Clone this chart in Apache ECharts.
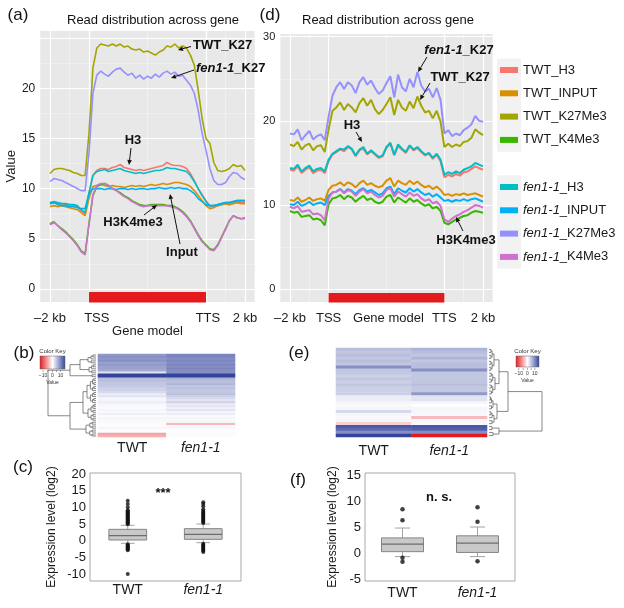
<!DOCTYPE html>
<html><head><meta charset="utf-8">
<script src="https://cdn.jsdelivr.net/npm/echarts@6/dist/echarts.min.js"></script>
<style>html,body{margin:0;padding:0;background:#fff}#c{width:624px;height:608px}</style>
</head><body><div id="c"></div>
<script>
// ---------- data ----------
const xBins = [0,2,4,6,8,10,12,14,16,18,20,22,24,26,28,30,32,34,36,38,40,42,44,46,48,50,52,54,56,58,60,62,64,66,68,70,72,74,76,78,80,82,84,86,88,90,92,94,96,98,100];
const geneModel = [20, 80];            // TSS, TTS (bin units)
const xBreaksMajor = [0, 20, 80, 100];
const xBreaksMinor = [10, 50, 90];
const xTickPosA = [0, 24, 81, 100];
const xTickLabelsA = ['–2 kb', 'TSS', 'TTS', '2 kb'];
const xTickPosD = [0, 20, 51, 80, 100];
const xTickLabelsD = ['–2 kb', 'TSS', 'Gene model', 'TTS', '2 kb'];
const yLabelMaxA = 20;

const seriesNames = ['TWT_H3','TWT_INPUT','TWT_K27Me3','TWT_K4Me3','fen1-1_H3','fen1-1_INPUT','fen1-1_K27Me3','fen1-1_K4Me3'];
const seriesColors = ['#F8766D','#D89000','#A3A500','#39B600','#00BFC4','#00B0F6','#9590FF','#CF72CF'];

// panel (a)
const a_TWT_H3 = [8.5,8.6,8.5,8.5,8.4,8.4,8.3,8.2,7.8,7.5, 9.5,11.3,11.8,12.0,12.0,11.9,12.1,12.2,12.4,12.1, 12.0,11.9,11.8,11.9,11.8,11.9,12.0,12.1,12.2,12.3, 12.6,12.4,12.3,12.3,12.2,12.0,11.5,10.8,10.0,9.4, 8.8,8.2,8.2,8.3,8.4,8.5,8.4,8.6,8.7,8.6, 8.6];
const a_TWT_INPUT = [8.2,8.3,8.2,8.3,8.2,8.1,8.0,7.9,7.6,7.3, 9.0,10.2,10.3,10.4,10.3,10.2,10.3,10.2,10.2,10.1, 10.2,10.3,10.2,10.3,10.2,10.3,10.4,10.3,10.4,10.5, 10.4,10.5,10.6,10.6,10.5,10.4,10.2,9.8,9.3,8.8, 8.3,8.0,8.1,8.3,8.4,8.5,8.4,8.5,8.6,8.5, 8.5];
const a_TWT_K27Me3 = [11.5,11.9,12.0,12.0,11.9,11.8,11.6,11.5,11.3,11.3, 15.5,22.0,24.0,24.4,24.3,24.2,24.4,24.2,24.4,24.1, 24.2,23.9,23.8,23.9,23.6,23.7,23.5,23.3,23.6,23.8, 24.2,24.1,24.4,24.0,24.2,24.0,23.3,22.3,19.8,17.0, 15.0,14.5,12.6,11.8,11.7,11.8,12.0,12.4,12.2,12.3, 11.8];
const a_TWT_K4Me3 = [6.5,6.7,6.3,6.0,5.7,5.3,4.9,4.4,3.8,3.5, 6.5,9.3,10.2,10.4,10.5,10.3,10.0,9.8,9.6,9.3, 9.1,8.8,8.6,8.4,8.3,8.3,8.4,8.4,8.4,8.4, 8.3,8.3,8.2,8.0,7.7,7.3,6.8,6.1,5.4,4.8, 4.4,4.0,3.9,4.4,5.2,6.0,6.8,7.3,7.1,7.0, 7.1];
const a_fen_H3 = [8.6,8.7,8.6,8.5,8.5,8.4,8.4,8.3,7.9,7.6, 9.6,11.3,11.7,11.8,11.9,11.7,11.8,11.9,12.0,11.8, 11.7,11.6,11.5,11.6,11.5,11.6,11.7,11.8,11.8,11.9, 12.1,12.0,12.0,11.9,11.8,11.7,11.3,10.7,10.0,9.3, 8.7,8.3,8.3,8.4,8.5,8.6,8.6,8.7,8.8,8.8, 8.8];
const a_fen_INPUT = [8.5,8.6,8.4,8.3,8.3,8.2,8.2,8.1,8.0,8.0, 9.5,10.0,10.0,10.0,9.9,10.0,10.0,9.9,10.0,10.0, 9.9,10.0,9.9,10.0,10.0,9.9,10.0,10.0,10.1,10.0, 10.0,10.1,10.0,10.1,10.0,10.0,9.8,9.5,9.0,8.7, 8.4,8.3,8.3,8.4,8.5,8.6,8.6,8.7,8.8,8.8, 8.8];
const a_fen_K27Me3 = [10.7,11.0,10.9,10.8,10.6,10.4,10.2,10.0,9.8,9.8, 13.5,19.5,21.3,21.7,21.4,21.2,21.6,21.9,22.0,21.6, 21.3,21.5,21.0,21.3,20.9,21.2,21.0,21.4,21.1,21.5, 21.7,21.4,21.6,21.2,21.3,20.8,20.3,19.5,17.8,15.5, 13.8,12.0,10.8,10.4,10.4,10.6,11.2,11.6,11.5,11.1, 10.9];
const a_fen_K4Me3 = [6.4,6.6,6.3,5.9,5.6,5.2,4.8,4.3,3.7,3.4, 6.4,9.4,10.3,10.5,10.5,10.3,10.0,9.8,9.5,9.2, 9.0,8.7,8.5,8.3,8.2,8.3,8.3,8.3,8.3,8.3, 8.3,8.2,8.1,7.9,7.6,7.2,6.7,6.0,5.3,4.7, 4.3,3.9,3.8,4.3,5.1,5.9,6.8,7.3,7.1,7.0, 7.0];

// panel (d)
const d_TWT_H3 = [14.2,14.1,14.6,13.8,14.2,14.5,13.8,14.1,14.2,13.8, 15.2,16.0,16.3,16.6,16.4,16.9,16.6,15.8,16.5,16.7, 16.0,16.4,16.0,15.6,15.8,16.8,17.3,15.9,17.0,16.6, 16.2,17.0,16.5,16.8,16.3,15.9,16.1,15.5,16.0,15.2, 13.3,13.6,13.4,13.7,13.5,13.9,14.0,14.3,14.6,14.4, 14.2];
const d_TWT_INPUT = [10.6,10.5,10.9,10.4,10.6,10.9,10.5,10.7,10.8,10.5, 11.8,12.3,12.4,12.7,12.3,12.7,12.5,12.1,12.6,12.9, 12.4,12.6,12.3,12.1,12.3,12.9,13.2,12.2,12.9,12.6, 12.4,12.9,12.5,12.8,12.4,12.1,12.3,11.9,12.2,11.8, 11.2,11.3,11.1,11.3,11.2,11.4,11.2,11.3,11.4,11.2, 11.0];
const d_TWT_K27Me3 = [17.2,17.0,17.5,16.6,17.1,17.3,16.5,17.0,17.1,16.3, 19.0,21.2,21.6,22.2,21.3,22.0,21.6,21.0,22.1,22.7, 21.8,22.5,21.4,20.8,21.3,22.0,22.8,20.7,22.5,21.6, 21.2,22.3,21.5,22.9,21.8,21.0,21.2,20.3,21.2,19.9, 16.9,17.3,16.9,17.2,17.0,17.5,17.6,18.0,19.0,18.6, 18.3];
const d_TWT_K4Me3 = [9.3,9.1,9.2,8.6,8.7,8.8,8.3,8.4,8.2,7.6, 10.1,10.8,10.9,11.2,10.7,11.1,10.9,10.4,10.8,11.1, 10.6,10.8,10.4,10.2,10.4,11.0,11.2,10.3,10.9,10.6, 10.3,10.8,10.4,10.6,10.2,9.9,10.1,9.6,9.8,9.3, 7.9,7.7,8.0,8.3,8.5,8.7,8.8,9.1,9.3,9.2, 9.1];
const d_fen_H3 = [14.4,14.3,14.8,14.0,14.4,14.7,14.0,14.3,14.4,14.0, 15.4,16.1,16.4,16.7,16.6,17.0,16.7,15.9,16.6,16.9, 16.1,16.5,16.1,15.7,15.9,16.9,17.4,16.0,17.2,16.7, 16.3,17.1,16.6,16.9,16.4,16.0,16.2,15.6,16.1,15.4, 13.6,13.9,13.7,14.0,13.8,14.2,14.4,14.6,15.0,14.8, 14.6];
const d_fen_INPUT = [10.1,10.0,10.4,9.9,10.1,10.4,10.0,10.2,10.3,10.0, 11.1,11.5,11.6,11.9,11.5,11.9,11.7,11.3,11.8,12.0, 11.6,11.8,11.5,11.2,11.4,12.0,12.2,11.3,12.0,11.7, 11.5,12.0,11.6,11.9,11.5,11.2,11.4,11.0,11.3,10.9, 10.5,10.6,10.4,10.6,10.5,10.7,10.5,10.7,10.8,10.6, 10.4];
const d_fen_K27Me3 = [18.5,18.4,19.0,17.7,18.3,18.8,17.8,18.2,18.4,17.7, 20.5,23.0,24.0,24.6,23.8,24.6,24.2,23.3,24.6,25.2, 24.3,24.8,23.9,23.2,23.6,24.5,25.3,22.8,25.5,24.0, 23.5,25.0,24.0,25.8,24.2,23.5,23.8,22.8,23.9,22.5, 18.5,18.9,18.2,18.5,18.3,18.9,19.2,19.6,20.6,20.0, 19.9];
const d_fen_K4Me3 = [9.8,9.6,9.9,9.2,9.3,9.4,8.9,9.0,8.8,8.2, 10.8,11.5,11.6,11.9,11.4,11.8,11.6,11.1,11.6,11.9, 11.4,11.6,11.2,10.9,11.1,11.8,12.0,11.0,11.6,11.3, 11.0,11.5,11.1,11.3,10.8,10.5,10.7,10.2,10.4,9.9, 8.3,8.0,8.4,8.7,8.9,9.2,9.4,9.7,10.0,9.9, 9.7];

// heatmaps (rows top to bottom)
const heatCols = ['TWT', 'fen1-1'];
const heatB_TWT = [5.5,6.0,5.5,6.0,5.0,5.5,5.0,5.0,4.5,1.5, 12,11, 3.5,3.5,3.0,3.0,3.0,2.5,2.5,2.0, 1.0,1.5,0.5,0.5,1.0, 0.5,0.3,0.2,0.5,0.3,0.8,0.2,0.5,0.3, 0.3,0.2,0.1,0.5,0.2,0.1, -4,-3.5];
const heatB_fen = [6.5,6.5,6.0,6.5,6.0,6.5,6.0,6.5,6.0,6.0, 12,11.5, 4.0,3.5,3.5,4.0,3.0,3.5,3.0,3.0, 3.5,2.5,2.0,1.5,2.5, 1.0,1.5,0.8,1.5,0.5,1.0,0.3,0.5,0.3, 0.5,-3,0.3,0.5,0.2,0.1, 0.2,0.2];
const heatE_TWT = [3.5,3.0,3.5,3.0,3.5,3.0,6.0,3.0,3.0,2.5, 3.0,2.5,3.0,2.5,2.5,2.5,1.0,1.0,0.5,0.3, 0.5,2.0,0.5,0.3,0.5,-2.0,9.0,8.0,6.0,10.0];
const heatE_fen = [4.0,3.5,3.0,4.0,3.0,3.5,3.5,6.0,3.0,3.0, 3.0,3.0,3.5,3.0,3.0,5.5,1.5,1.5,0.5,0.0, 0.5,0.5,0.3,-3.0,0.5,0.3,9.0,8.5,6.0,-12];

// boxplots: [min, Q1, median, Q3, max]
const boxCats = ['TWT', 'fen1-1'];
const boxStatsC = [[-0.8,0.2,1.5,3.4,4.6],[-0.6,0.4,1.9,3.6,5.0]];
const outC_TWT = [4.9,5.2,5.5,5.8,6.1,6.4,6.7,7.0,7.3,7.6,7.9,8.2,8.5,8.8,9.1,10.0,11.0,12.0,-1.1,-1.4,-1.7,-2.0,-2.3,-2.6,-2.9,-10.0];
const outC_fen = [5.3,5.6,5.9,6.2,6.5,6.8,7.1,7.4,7.7,8.0,8.3,8.6,8.9,9.4,10.3,11.0,11.5,-0.9,-1.2,-1.5,-1.8,-2.1,-2.4,-2.7,-3.0,-3.4];
const boxStatsF = [[-0.7,0.25,1.7,2.9,4.8],[-0.7,0.1,1.9,3.3,5.0]];
const outF_TWT = [8.4,6.3,-0.9,-1.7];
const outF_fen = [8.8,6.0,-1.6];

// ---------- build ----------
const FONT = '"Liberation Sans", Arial, Helvetica, sans-serif';
const TXT = '#1a1a1a';
const RED = '#E3191F', BLUE = '#34449C';
const colorOf = n => seriesColors[seriesNames.indexOf(n)];
const italicFmt = v => v.indexOf('fen1-1') === 0 ? '{i|fen1-1}' + (v.length > 6 ? '{n|' + v.slice(6) + '}' : '') : v;

const aSets = [a_TWT_H3,a_TWT_INPUT,a_TWT_K27Me3,a_TWT_K4Me3,a_fen_H3,a_fen_INPUT,a_fen_K27Me3,a_fen_K4Me3];
const dSets = [d_TWT_H3,d_TWT_INPUT,d_TWT_K27Me3,d_TWT_K4Me3,d_fen_H3,d_fen_INPUT,d_fen_K27Me3,d_fen_K4Me3];

function lineSeries(name, arr, gi, w){
  const c = colorOf(name);
  return {type:'line', name, xAxisIndex:gi, yAxisIndex:gi, data:xBins.map((x,i)=>[x,arr[i]]),
    showSymbol:false, symbol:'none', z:3, lineStyle:{width:w, color:c}, itemStyle:{color:c},
    emphasis:{disabled:true}, animation:false};
}
function frameSeries(gi, barTop, barBottom){
  return {type:'line', name:'gene model', xAxisIndex:gi, yAxisIndex:gi, data:[], silent:true, z:1,
    markArea:{silent:true, z:2, itemStyle:{color:'#E41A1C', opacity:1},
      data:[[{xAxis:geneModel[0], yAxis:barTop},{xAxis:geneModel[1], yAxis:barBottom}]]},
    markLine:{silent:true, z:1, symbol:['none','none'], label:{show:false}, emphasis:{disabled:true}, animation:false,
      lineStyle:{color:'#ffffff', width:1.2, type:'solid'},
      data: xBreaksMajor.map(v=>({xAxis:v})).concat(xBreaksMinor.map(v=>({xAxis:v, lineStyle:{color:'rgba(255,255,255,0.6)', width:0.6, type:'solid'}})))}
  };
}
function profileX(gi, pos, labels, name){
  const ax = {gridIndex:gi, type:'value', min:-5, max:105, axisLine:{show:false}, axisTick:{show:false}, splitLine:{show:false},
    axisLabel:{customValues:pos, formatter:v=>labels[pos.indexOf(v)], fontSize:13, color:TXT, margin:9}};
  if (name) Object.assign(ax, {name, nameLocation:'middle', nameGap:19, nameTextStyle:{fontSize:13, color:TXT}});
  return ax;
}
function profileY(gi, min, max, split, fs, labelMax, extra){
  return Object.assign({gridIndex:gi, type:'value', min, max, splitNumber:split,
    axisLine:{show:false}, axisTick:{show:false},
    axisLabel:{fontSize:fs, color:TXT, margin:5, showMinLabel:false, showMaxLabel:false, formatter:v=> v > labelMax ? '' : String(v)},
    splitLine:{lineStyle:{color:'#ffffff', width:1.2}},
    minorTick:{show:false, splitNumber:2},
    minorSplitLine:{show:true, lineStyle:{color:'rgba(255,255,255,0.55)', width:0.6}}}, extra||{});
}
const richIt = {i:{fontStyle:'italic', fontSize:14, color:TXT, fontFamily:FONT}, n:{fontSize:14, color:TXT, fontFamily:FONT}};

function boxRender(frac){
  return function(params, api){
    const c = api.value(0);
    const p = [1,2,3,4,5].map(k=>api.coord([c, api.value(k)]));
    const bw = api.size([1,0])[0]*frac, x = p[0][0], cap = bw*0.18;
    const wl = {stroke:'#a3a3a3', lineWidth:1};
    return {type:'group', children:[
      {type:'line', shape:{x1:x,y1:p[3][1],x2:x,y2:p[4][1]}, style:wl},
      {type:'line', shape:{x1:x-cap,y1:p[4][1],x2:x+cap,y2:p[4][1]}, style:wl},
      {type:'line', shape:{x1:x,y1:p[1][1],x2:x,y2:p[0][1]}, style:wl},
      {type:'line', shape:{x1:x-cap,y1:p[0][1],x2:x+cap,y2:p[0][1]}, style:wl},
      {type:'rect', shape:{x:x-bw/2,y:p[3][1],width:bw,height:p[1][1]-p[3][1]}, style:{fill:'#C9C9C9', stroke:'#858585', lineWidth:1}},
      {type:'line', shape:{x1:x-bw/2,y1:p[2][1],x2:x+bw/2,y2:p[2][1]}, style:{stroke:'#6d6d6d', lineWidth:1.2}}
    ]};
  };
}
function catX(gi, data, margin){
  return {gridIndex:gi, type:'category', data, axisLine:{show:false}, axisTick:{show:false},
    axisLabel:{interval:0, fontSize:14, color:TXT, margin, formatter:italicFmt, rich:richIt}};
}
function boxY(gi, min, max, split, gap){
  return {gridIndex:gi, type:'value', min, max, splitNumber:split, splitLine:{show:false}, axisLine:{show:false}, axisTick:{show:false},
    axisLabel:{fontSize:13, color:TXT, margin:4, showMinLabel:false, showMaxLabel:false},
    name:'Expression level (log2)', nameLocation:'middle', nameGap:gap, nameTextStyle:{fontSize:12, color:TXT}};
}

const series = [];
series.push(frameSeries(0, -0.3, -1.35));
seriesNames.forEach((n,i)=>series.push(lineSeries(n, aSets[i], 0, 1.6)));
series.push(frameSeries(1, -0.45, -1.57));
seriesNames.forEach((n,i)=>series.push(lineSeries(n, dSets[i], 1, 2)));
const hbIdx = series.length;
series.push({type:'heatmap', xAxisIndex:2, yAxisIndex:2, silent:true, emphasis:{disabled:true},
  data: heatB_TWT.map((v,i)=>[0,i,v]).concat(heatB_fen.map((v,i)=>[1,i,v]))});
series.push({type:'heatmap', xAxisIndex:3, yAxisIndex:3, silent:true, emphasis:{disabled:true},
  data: heatE_TWT.map((v,i)=>[0,i,v]).concat(heatE_fen.map((v,i)=>[1,i,v]))});
series.push({type:'custom', xAxisIndex:4, yAxisIndex:4, renderItem:boxRender(0.5), silent:true,
  data: boxStatsC.map((s,i)=>[i].concat(s)), encode:{x:0, y:[1,2,3,4,5]}});
series.push({type:'scatter', xAxisIndex:4, yAxisIndex:4, symbolSize:4, silent:true, itemStyle:{color:'#111'}, z:4,
  data: outC_TWT.map(v=>[0,v]).concat(outC_fen.map(v=>[1,v]))});
series.push({type:'custom', xAxisIndex:5, yAxisIndex:5, renderItem:boxRender(0.56), silent:true,
  data: boxStatsF.map((s,i)=>[i].concat(s)), encode:{x:0, y:[1,2,3,4,5]}});
series.push({type:'scatter', xAxisIndex:5, yAxisIndex:5, symbolSize:4.5, silent:true, itemStyle:{color:'#111'}, z:4,
  data: outF_TWT.map(v=>[0,v]).concat(outF_fen.map(v=>[1,v]))});

const legendCommon = {orient:'vertical', left:500, padding:0, itemWidth:18, itemHeight:6, itemGap:7.3, icon:'rect',
  formatter:italicFmt, textStyle:{fontSize:13, lineHeight:16, color:TXT, rich:{i:{fontStyle:'italic', fontSize:13, color:TXT}, n:{fontSize:13, color:TXT}}}};

const option = {
  animation:false,
  textStyle:{fontFamily:FONT},
  grid:[
    {left:40.25, top:30, width:214.5, height:272.5, show:true, backgroundColor:'#E8E8E8', borderWidth:0},
    {left:280.35, top:33, width:212.3, height:269.5, show:true, backgroundColor:'#E8E8E8', borderWidth:0},
    {left:98, top:354, width:137, height:83},
    {left:336, top:348, width:151, height:89},
    {left:90, top:473, width:151, height:108, show:true, borderColor:'#A8A8A8', borderWidth:1, backgroundColor:'transparent'},
    {left:365, top:473, width:150, height:108, show:true, borderColor:'#A8A8A8', borderWidth:1, backgroundColor:'transparent'}
  ],
  xAxis:[
    profileX(0, xTickPosA, xTickLabelsA, 'Gene model'),
    profileX(1, xTickPosD, xTickLabelsD, null),
    catX(2, heatCols, 4),
    catX(3, heatCols, 7),
    catX(4, boxCats, 2),
    catX(5, boxCats, 5)
  ],
  yAxis:[
    profileY(0, -1.35, 25.8, 5, 12, yLabelMaxA, {name:'Value', nameLocation:'middle', nameGap:20, nameTextStyle:{fontSize:13, color:TXT}}),
    profileY(1, -1.57, 30.44, 3, 11, 30),
    {gridIndex:2, type:'category', inverse:true, data:heatB_TWT.map((_,i)=>String(i)), show:false},
    {gridIndex:3, type:'category', inverse:true, data:heatE_TWT.map((_,i)=>String(i)), show:false},
    boxY(4, -12.1, 20.3, 6, 32),
    boxY(5, -5.4, 15.4, 4, 26)
  ],
  visualMap:[{type:'continuous', show:false, min:-10, max:10, seriesIndex:[hbIdx, hbIdx+1], inRange:{color:[RED,'#ffffff',BLUE]}}],
  legend:[
    Object.assign({top:62, data:seriesNames.slice(0,4)}, legendCommon),
    Object.assign({top:179, data:seriesNames.slice(4)}, legendCommon)
  ],
  series
};

const chart = echarts.init(document.getElementById('c'));
chart.setOption(option);

// ---------- annotations / decorations ----------
function txt(x, y, text, st){
  return {type:'text', z:10, x, y, silent:true, style:Object.assign({text, fill:'#111', fontSize:13, fontFamily:FONT, align:'center', verticalAlign:'middle'}, st||{})};
}
function arrow(x1,y1,x2,y2){
  const a = Math.atan2(y2-y1, x2-x1), L = 5, W = 2.3;
  const bx = x2-L*Math.cos(a), by = y2-L*Math.sin(a), px = -Math.sin(a)*W, py = Math.cos(a)*W;
  return [
    {type:'line', z:10, silent:true, shape:{x1,y1,x2:bx,y2:by}, style:{stroke:'#111', lineWidth:1}},
    {type:'polygon', z:10, silent:true, shape:{points:[[x2,y2],[bx+px,by+py],[bx-px,by-py]]}, style:{fill:'#111'}}
  ];
}
const boldRich = {i:{fontStyle:'italic', fontWeight:'bold', fontSize:13, fontFamily:FONT, fill:'#111'}, b:{fontWeight:'bold', fontSize:13, fontFamily:FONT, fill:'#111'}};
function colorKey(x, y, w, h){
  const els = [
    txt(x+w/2, y-5, 'Color Key', {fontSize:6, fill:'#333'}),
    {type:'rect', silent:true, shape:{x, y, width:w, height:h}, style:{stroke:'#666', lineWidth:0.5,
      fill:new echarts.graphic.LinearGradient(0,0,1,0,[{offset:0,color:RED},{offset:0.5,color:'#ffffff'},{offset:1,color:BLUE}])}}
  ];
  [0.12,0.31,0.5,0.66,0.82].forEach(f=>els.push({type:'line', silent:true, shape:{x1:x+w*f,y1:y+h+1,x2:x+w*f,y2:y+h+3}, style:{stroke:'#555', lineWidth:0.5}}));
  els.push(txt(x+w*0.12, y+h+7, '−10', {fontSize:5, fill:'#333'}));
  els.push(txt(x+w*0.5, y+h+7, '0', {fontSize:5, fill:'#333'}));
  els.push(txt(x+w*0.82, y+h+7, '10', {fontSize:5, fill:'#333'}));
  els.push(txt(x+w*0.5, y+h+14, 'Value', {fontSize:5, fill:'#333'}));
  return els;
}
// dendrogram structures
const N = (h, l, r) => ({h, c:[l, r]});
function R(a, b, h){ if (a === b) return {leaf:a}; const m = Math.floor((a+b)/2); return {h, c:[R(a,m,h*0.62), R(m+1,b,h*0.62)]}; }
const treeB = N(48, N(26, N(16, R(0,4,8), R(5,9,7)), R(10,11,4)), N(26, N(13, R(12,24,9), R(25,33,8)), R(34,41,10)));
const treeE = N(53, N(19, N(10, R(0,7,5), R(8,15,6)), N(8, R(16,20,4), R(21,25,5))), N(10, R(26,27,3), R(28,29,4)));
function dendro(tree, rowY, xLeaf, dir){
  const els = [];
  (function walk(n){
    if (n.leaf !== undefined) return {y:rowY[n.leaf], h:0};
    const L = walk(n.c[0]), Rr = walk(n.c[1]), x = xLeaf + dir*n.h;
    els.push({type:'polyline', silent:true, shape:{points:[[xLeaf+dir*L.h, L.y],[x, L.y],[x, Rr.y],[xLeaf+dir*Rr.h, Rr.y]]}, style:{stroke:'#555', lineWidth:0.7, fill:null}});
    return {y:(L.y+Rr.y)/2, h:n.h};
  })(tree);
  return els;
}
const rowYB = heatB_TWT.map((_,i)=>chart.convertToPixel({xAxisIndex:2, yAxisIndex:2}, [0,i])[1]);
const rowYE = heatE_TWT.map((_,i)=>chart.convertToPixel({xAxisIndex:3, yAxisIndex:3}, [0,i])[1]);

let g = [];
// legend key backgrounds
g.push({type:'rect', silent:true, z:-1, shape:{x:497, y:58.5, width:24, height:93.3}, style:{fill:'#F2F2F2'}});
g.push({type:'rect', silent:true, z:-1, shape:{x:497, y:175.3, width:24, height:93.3}, style:{fill:'#F2F2F2'}});
// titles & panel letters
g.push(txt(18, 15, '(a)', {fontSize:17}));
g.push(txt(153, 20, 'Read distribution across gene', {fontSize:13}));
g.push(txt(270, 15, '(d)', {fontSize:17}));
g.push(txt(388, 20, 'Read distribution across gene', {fontSize:13}));
g.push(txt(24, 353, '(b)', {fontSize:17}));
g.push(txt(299, 353, '(e)', {fontSize:17}));
g.push(txt(23, 467, '(c)', {fontSize:17}));
g.push(txt(298, 480, '(f)', {fontSize:17}));
// panel (a) annotations
g.push(txt(193, 45, '{b|TWT_K27}', {align:'left', rich:boldRich}));
g = g.concat(arrow(191, 46.5, 178, 50));
g.push(txt(196, 68, '{i|fen1-1}{b|_K27}', {align:'left', rich:boldRich}));
g = g.concat(arrow(194, 70, 171, 78));
g.push(txt(133, 140, 'H3', {fontWeight:'bold'}));
g = g.concat(arrow(131, 148, 129, 165));
g.push(txt(133, 222, 'H3K4me3', {fontWeight:'bold'}));
g = g.concat(arrow(144, 215, 157, 205));
g.push(txt(182, 252, 'Input', {fontWeight:'bold'}));
g = g.concat(arrow(180, 244, 170, 194));
// panel (d) annotations
g.push(txt(459, 50, '{i|fen1-1}{b|_K27}', {rich:boldRich}));
g = g.concat(arrow(427, 57, 418, 72));
g.push(txt(460, 77, '{b|TWT_K27}', {rich:boldRich}));
g = g.concat(arrow(430, 83, 420, 100));
g.push(txt(352, 125, 'H3', {fontWeight:'bold'}));
g = g.concat(arrow(356, 132, 362, 142));
g.push(txt(466, 240, 'H3K4me3', {fontWeight:'bold'}));
g = g.concat(arrow(463, 231, 456, 217));
// heatmap keys and dendrograms
g = g.concat(colorKey(40, 356, 25, 13));
g = g.concat(colorKey(516, 356, 23, 11));
g = g.concat(dendro(treeB, rowYB, 96, -1));
g = g.concat(dendro(treeE, rowYE, 489, 1));
// significance marks
g.push(txt(163, 493, '***', {fontWeight:'bold', fontSize:13}));
g.push(txt(439, 497, 'n. s.', {fontWeight:'bold', fontSize:13}));

chart.setOption({graphic:{elements:g}});
</script></body></html>
